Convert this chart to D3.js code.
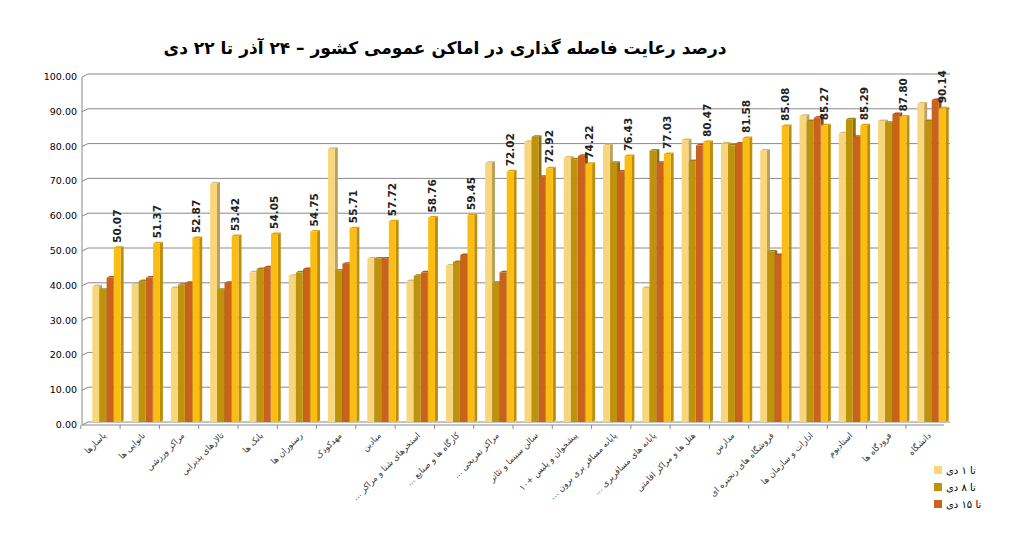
<!DOCTYPE html>
<html>
<head>
<meta charset="utf-8" />
<script src="https://cdn.jsdelivr.net/npm/d3@7"></script>
<style>
  body { margin: 0; background: #fff; }
  text { font-family: "DejaVu Sans", "Noto Sans", sans-serif; }
</style>
</head>
<body>
<svg id="chart" width="1024" height="534"></svg>
<script>
// داده ها
var categories = ['پاسارها', 'نانوایی ها', 'مراکز ورزشی', 'تالارهای پذیرایی', 'بانک ها', 'رستوران ها',
  'مهدکودک', 'میادین', 'استخرهای شنا و مراکز ...', 'کارگاه ها و صنایع ...', 'مراکز تفریحی ...',
  'سالن سینما و تئاتر', 'پیشخوان و پلیس +۱۰', 'پایانه مسافر بری برون ...', 'پایانه های مسافربری ...',
  'هتل ها و مراکز اقامتی', 'مدارس', 'فروشگاه های زنجیره ای', 'ادارات و سازمان ها', 'استادیوم',
  'فرودگاه ها', 'دانشگاه'];
var s1 = [39, 39.5, 38.5, 68.5, 43, 42, 78.5, 47, 40.5, 45, 74.5, 80.5, 76, 79.5, 38.5, 81, 80, 78, 88, 83, 86.5, 91.5];
var s8 = [38, 40.5, 39.5, 38, 44, 43, 43.5, 47, 42, 46, 40, 82, 75.5, 74.5, 78, 75, 79.5, 49, 86.5, 87, 86, 86.5];
var s15 = [41.5, 41.5, 40, 40, 44.5, 44, 45.5, 47, 43, 48, 43, 70.5, 76.5, 72, 74.5, 79.5, 80, 48, 87.5, 82, 88.5, 92.5];
var s22 = [50.07, 51.37, 52.87, 53.42, 54.05, 54.75, 55.71, 57.72, 58.76, 59.45, 72.02, 72.92, 74.22, 76.43, 77.03, 80.47, 81.58, 85.08, 85.27, 85.29, 87.80, 90.14];
var seriesNames = ['تا ۱ دی', 'تا ۸ دی', 'تا ۱۵ دی', ''];
var colors = ['#f8d77c', '#bf920c', '#c9621b', '#fbbd12'];
var yTicks = d3.range(0, 101, 10);

var svg = d3.select('#chart');
var L = 88, R = 950, T = 74, B = 422, dep = 6;

var x = d3.scaleBand().domain(categories).range([L, R]).paddingInner(0.26).paddingOuter(0.1);
var xs = d3.scaleBand().domain([0, 1, 2, 3]).range([0, x.bandwidth()]).padding(0.05);
var y = d3.scaleLinear().domain([0, 100]).range([B, T]);

// خطوط شبکه
var g = svg.append('g');
yTicks.forEach(function (t) {
  g.append('line').attr('x1', L - dep).attr('y1', y(t) + 3).attr('x2', L).attr('y2', y(t))
    .attr('stroke', '#888');
  g.append('line').attr('x1', L).attr('y1', y(t)).attr('x2', R).attr('y2', y(t))
    .attr('stroke', '#8a8a8a').attr('stroke-width', 1);
  g.append('text').attr('x', L - dep - 5).attr('y', y(t) + 6).attr('text-anchor', 'end')
    .attr('font-size', 9.5).text(t.toFixed(2));
});
g.append('line').attr('x1', L - dep).attr('y1', y(0) + 3).attr('x2', L - dep).attr('y2', y(100) + 3).attr('stroke', '#888');
g.append('line').attr('x1', L - dep).attr('y1', y(0) + 3).attr('x2', R - dep).attr('y2', y(0) + 3).attr('stroke', '#888');
categories.forEach(function (c) {
  var xx = x(c) - x.step() * 0.13 - dep;
  g.append('line').attr('x1', xx).attr('x2', xx).attr('y1', y(0) + 3).attr('y2', y(0) + 7).attr('stroke', '#888');
});

// میله ها
var data = [s1, s8, s15, s22];
categories.forEach(function (c, i) {
  data.forEach(function (s, k) {
    var bx = x(c) + xs(k), w = xs.bandwidth(), top = y(s[i]), col = colors[k];
    var d = 3;
    svg.append('path')
      .attr('d', 'M' + (bx + w) + ',' + top + 'l' + d + ',' + (-d / 2) + 'V' + (B - d / 2) + 'l' + (-d) + ',' + (d / 2) + 'Z')
      .attr('fill', d3.color(col).darker(0.8));
    svg.append('path')
      .attr('d', 'M' + bx + ',' + top + 'l' + d + ',' + (-d / 2) + 'h' + w + 'l' + (-d) + ',' + (d / 2) + 'Z')
      .attr('fill', d3.color(col).darker(0.4));
    svg.append('rect').attr('x', bx).attr('y', top).attr('width', w).attr('height', B - top)
      .attr('fill', col);
  });
  var lx = x(c) + xs(3) + xs.bandwidth() / 2 + 4;
  svg.append('text').attr('transform', 'translate(' + lx + ',' + (y(s22[i]) - 5) + ') rotate(-90)')
    .attr('font-size', 10.5).attr('font-weight', 'bold').attr('fill', '#222').text(s22[i].toFixed(2));
});

// برچسب های محور
categories.forEach(function (c) {
  var cx = x(c) + x.bandwidth() / 2;
  svg.append('text').attr('transform', 'translate(' + cx + ',' + (B + 14) + ') rotate(-45)')
    .attr('text-anchor', 'start').attr('direction', 'rtl').attr('font-size', 8.5).attr('fill', '#333')
    .text(c);
});

// عنوان
svg.append('text').attr('x', 445).attr('y', 54).attr('text-anchor', 'middle').attr('direction', 'rtl')
  .attr('font-size', 17).attr('font-weight', 'bold').text('درصد رعایت فاصله گذاری در اماکن عمومی کشور  – ۲۴ آذر تا  ۲۲ دی');

// راهنما
var lg = svg.append('g').attr('transform', 'translate(934,466)');
[0, 1, 2].forEach(function (k) {
  lg.append('rect').attr('x', 0).attr('y', k * 17).attr('width', 8).attr('height', 8).attr('fill', colors[k]);
  lg.append('text').attr('x', 12).attr('y', k * 17 + 8).attr('font-size', 10).attr('text-anchor', 'end')
    .attr('direction', 'rtl').text(seriesNames[k]);
});
</script>
</body>
</html>
